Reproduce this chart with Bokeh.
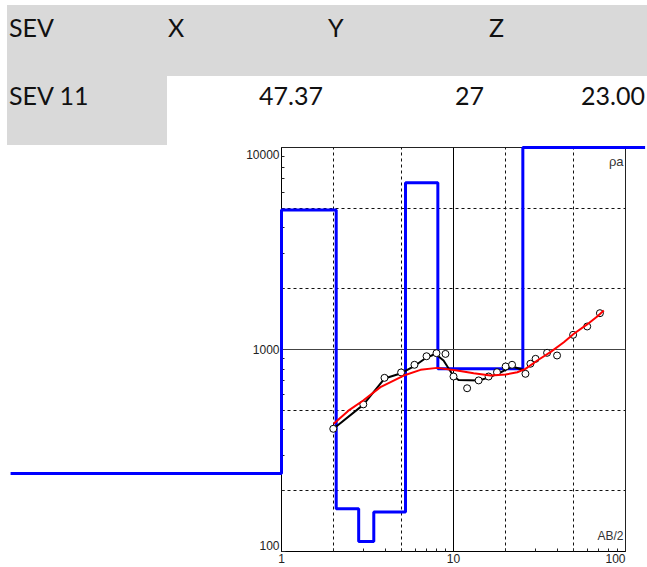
from bokeh.plotting import figure
from bokeh.models import (Div, FixedTicker, PrintfTickFormatter, Span, Label,
                          Range1d)
from bokeh.core.properties import value
from bokeh.layouts import column
from bokeh.embed import file_html
from bokeh.resources import INLINE

# ---------------- data ----------------
header_labels = ["SEV", "X", "Y", "Z"]
row_label = "SEV 11"
row_values = ["47.37", "27", "23.00"]

# interpreted layered model (blue step curve)
model_x_start = 0.0266
model_x_end = 130.0
layer_bounds = [1.0, 2.08, 2.81, 3.44, 5.26, 8.11, 25.3]
layer_rho = [243, 4900, 163, 112, 157, 6700, 802, 10000]

# field measurements (open circles)
ab2_obs = [2.0, 2.99, 3.97, 4.96, 5.93, 6.97, 7.96, 8.98, 10.0, 12.0, 14.0,
           16.0, 17.9, 20.1, 21.9, 26.2, 28.0, 30.0, 35.0, 40.0, 49.6, 59.9, 71.0]
rho_obs = [405, 535, 724, 770, 840, 926, 959, 951, 735, 643, 703,
           735, 772, 824, 840, 758, 850, 899, 963, 934, 1182, 1300, 1513]

# observed curve (black)
ab2_curve = [2.005, 2.985, 3.97, 4.97, 5.99, 6.97, 7.86, 8.75, 10.04, 10.7,
             14.0, 16.0, 18.8, 21.9, 26.2]
rho_curve = [405, 532, 718, 763, 833, 913, 950, 882, 735, 706,
             703, 726, 770, 824, 787]

# calculated response (red)
ab2_calc = [2.01, 2.45, 2.985, 3.76, 5.14, 6.43, 8.04, 10.5, 13.1, 16.4, 20.1,
            23.5, 26.2, 30.7, 36.6, 43.8, 50.1, 59.8, 68.5, 74.8]
rho_calc = [429, 498, 559, 651, 743, 793, 811, 787, 763, 743, 752,
            772, 802, 882, 970, 1087, 1196, 1331, 1456, 1560]

x_major = [1, 10, 100]
x_minor = [2, 3, 4, 5, 6, 7, 8, 9, 20, 30, 40, 50, 60, 70, 80, 90]
y_major = [100, 1000, 10000]
y_minor = [200, 300, 400, 500, 600, 700, 800, 900,
           2000, 3000, 4000, 5000, 6000, 7000, 8000, 9000]
x_dashed = [2, 5, 20, 50]
y_dashed = [200, 500, 2000, 5000]
y_edge_labels = [10000, 100]
x_edge_label = 100

# ---------------- table (Div) ----------------
GRAY = "#d9d9d9"
cell = ("position:absolute;white-space:nowrap;font-family:Lato,'Open Sans',sans-serif;"
        "font-size:25px;line-height:30px;color:#111;")
hdr_left = [2, 161, 321, 482]
html = ['<div style="position:relative;width:640px;height:140px;">',
        f'<div style="position:absolute;left:0;top:0;width:640px;height:71px;background:{GRAY};"></div>',
        f'<div style="position:absolute;left:0;top:71px;width:160px;height:69px;background:{GRAY};"></div>']
for t, l in zip(header_labels, hdr_left):
    html.append(f'<div style="{cell}left:{l}px;top:7px;">{t}</div>')
html.append(f'<div style="{cell}left:2px;top:75px;">{row_label}</div>')
for t, r in zip(row_values, [324, 163, 2]):
    html.append(f'<div style="{cell}right:{r}px;top:75px;">{t}</div>')
html.append('</div>')
table = Div(text="".join(html), width=640, height=140, margin=(5, 0, 0, 7))

# ---------------- chart ----------------
TICK_FONT = "'Liberation Sans Narrow', 'Liberation Sans', sans-serif"
p = figure(width=647, height=422, x_axis_type="log", y_axis_type="log",
           x_range=Range1d(1, 100), y_range=Range1d(100, 10000),
           output_backend="svg", toolbar_location=None,
           min_border_left=281, min_border_right=22, min_border_top=2,
           min_border_bottom=16,
           background_fill_color="white", border_fill_color="white",
           outline_line_color="#222", outline_line_width=1)

p.xaxis.ticker = FixedTicker(ticks=x_major, minor_ticks=x_minor)
p.yaxis.ticker = FixedTicker(ticks=y_major, minor_ticks=y_minor)
p.xaxis.formatter = PrintfTickFormatter(format="%d")
p.yaxis.formatter = PrintfTickFormatter(format="%d")
p.yaxis.major_label_overrides = {v: "" for v in y_edge_labels}
p.xaxis.major_label_overrides = {x_edge_label: ""}
for ax in (p.xaxis, p.yaxis):
    ax.axis_line_color = "black"
    ax.major_tick_in = 4
    ax.major_tick_out = 0
    ax.minor_tick_in = 3
    ax.minor_tick_out = 0
    ax.major_tick_line_color = "#222"
    ax.minor_tick_line_color = "#222"
    ax.major_label_text_font = TICK_FONT
    ax.major_label_text_font_size = "12px"
    ax.major_label_text_color = "#222"
    ax.major_label_standoff = 2

p.xgrid.ticker = FixedTicker(ticks=x_dashed)
p.ygrid.ticker = FixedTicker(ticks=y_dashed)
p.grid.grid_line_color = "#111"
p.grid.grid_line_dash = "3 3"
p.grid.grid_line_width = 1

p.add_layout(Span(location=10, dimension="height", line_color="black", line_width=1))
p.add_layout(Span(location=1000, dimension="width", line_color="#444", line_width=1))

# edge tick labels, shifted to stay beside the frame
p.text(x=[1], y=[y_edge_labels[0]], text=[str(y_edge_labels[0])], x_offset=-2, y_offset=2,
       text_align="right", text_baseline="top", text_font=value(TICK_FONT),
       text_font_size="12px", text_color="#222", level="overlay")
p.text(x=[1], y=[y_edge_labels[1]], text=[str(y_edge_labels[1])], x_offset=-2, y_offset=-2,
       text_align="right", text_baseline="bottom", text_font=value(TICK_FONT),
       text_font_size="12px", text_color="#222", level="overlay")
p.text(x=[x_edge_label], y=[100], text=[str(x_edge_label)], x_offset=0, y_offset=2,
       text_align="right", text_baseline="top", text_font=value(TICK_FONT),
       text_font_size="12px", text_color="#222", level="overlay")

p.add_layout(Label(x=100, y=10000, x_offset=-2, y_offset=-6, text="ρa",
                   text_align="right", text_baseline="top",
                   text_font=TICK_FONT, text_font_size="13px", text_color="#333"))
p.add_layout(Label(x=100, y=100, x_offset=-2, y_offset=9, text="AB/2",
                   text_align="right", text_baseline="bottom",
                   text_font=TICK_FONT, text_font_size="12px", text_color="#333"))

step_x = [model_x_start] + layer_bounds + [model_x_end]
step_y = layer_rho + [layer_rho[-1]]
p.step(step_x, step_y, mode="after", line_color="#0000ff", line_width=3,
       level="overlay")
p.line(ab2_curve, rho_curve, line_color="black", line_width=2, level="overlay")
p.scatter(ab2_obs, rho_obs, marker="circle", size=7, fill_color="white",
          line_color="black", line_width=1, level="overlay")
p.line(ab2_calc, rho_calc, line_color="#ff0000", line_width=2, level="overlay")

layout = column(table, p)
open("out.html", "w").write(file_html(layout, INLINE))
